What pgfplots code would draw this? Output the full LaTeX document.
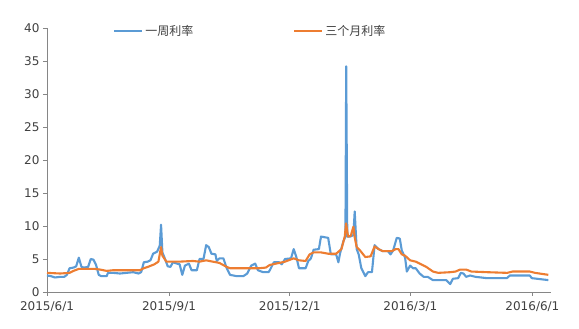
\documentclass[border=0pt]{standalone}
\usepackage{fontspec}
\setmainfont{DejaVu Sans}
\newfontfamily\cjk{Noto Sans CJK SC}
\usepackage{pgfplots}
\pgfplotsset{compat=1.18}
\definecolor{sblue}{HTML}{5B9BD5}
\definecolor{sorange}{HTML}{ED7D31}
\definecolor{axgray}{HTML}{868686}
\definecolor{txtgray}{HTML}{404040}
\begin{document}
\begin{tikzpicture}
\begin{axis}[
  at={(47pt,37pt)}, anchor=origin,
  scale only axis, width=504pt, height=264pt,
  xmin=0, xmax=380, ymin=0, ymax=40,
  axis lines*=left,
  axis line style={axgray, line width=0.8pt},
  tick style={axgray, line width=0.8pt},
  tick align=outside, major tick length=4pt,
  xtick={0,92,183,274,366},
  xticklabels={2015/6/1,2015/9/1,2015/12/1,2016/3/1,2016/6/1},
  ytick={0,5,...,40},
  /pgf/number format/assume math mode=true,
  tick label style={font=\fontsize{12}{14}\selectfont, text=txtgray},
  xticklabel style={yshift=-2pt},
  clip=false,
  legend columns=2,
  legend style={draw=none, fill=none, at={(0.125,0.989)}, anchor=west,
    font=\cjk\fontsize{12}{14}\selectfont, text=txtgray,
    /tikz/every even column/.append style={column sep=98pt}},
  legend image code/.code={\draw[#1] (0pt,0pt) -- (28pt,0pt);},
]
\addplot[sblue, line width=2.1pt, line join=round] coordinates {
(0,2.5)(3,2.4)(6,2.2)(10,2.3)(13,2.3)(15,2.6)(17,3.6)(20,3.7)(22,3.9)(24,5.2)(26,3.8)(28,3.7)(31,3.8)(33,5.0)(35,4.9)(37,4.1)(39,2.6)(41,2.4)(45,2.4)(46,2.9)(50,2.9)(55,2.8)(60,2.9)(65,3.0)(69,2.8)(71,3.0)(73,4.5)(76,4.6)(78,4.8)(80,5.8)(83,6.1)(85,7.0)(86,10.2)(87,6.0)(89,5.0)(91,3.9)(93,3.8)(95,4.5)(98,4.3)(100,4.2)(102,2.6)(104,4.0)(107,4.3)(109,3.3)(113,3.3)(115,5.0)(118,5.0)(120,7.1)(122,6.8)(124,5.8)(127,5.7)(128,4.7)(130,5.1)(133,5.1)(135.5,3.6)(138,2.6)(143,2.4)(148,2.4)(151,2.8)(154,4.0)(157,4.3)(159,3.3)(163,3.0)(167,3.0)(168,3.3)(171,4.5)(175,4.5)(177,4.2)(179.5,5.0)(184,5.1)(186,6.5)(188,5.3)(190,3.6)(195,3.6)(197,4.7)(199,5.1)(201,6.4)(205,6.5)(206.6,8.4)(212,8.2)(214,5.7)(218,5.7)(219.7,4.5)(221,5.9)(223.5,7.7)(225,8.4)(225.6,34.2)(226.4,8.4)(228.5,8.4)(231,8.6)(232,12.2)(233.5,6.5)(235,5.7)(237,3.6)(240,2.4)(242,3.0)(245,3.0)(247,7.1)(250,6.5)(253,6.2)(257,6.2)(259,5.7)(261,6.3)(263.7,8.2)(266,8.1)(267.5,6.3)(270,5.2)(271.3,3.1)(273.8,4.0)(276,3.6)(278,3.6)(281,2.8)(284,2.3)(287,2.3)(291,1.8)(296,1.8)(301,1.8)(304,1.2)(306,2.0)(310,2.1)(312,2.9)(314,2.8)(316,2.3)(319,2.5)(323,2.3)(331.6,2.1)(346.7,2.1)(349,2.5)(364,2.5)(365.5,2.1)(378,1.8)
};
\addlegendentry{一周利率}
\addplot[sorange, line width=2.1pt, line join=round] coordinates {
(0,2.9)(10,2.8)(17,2.9)(20,3.2)(24,3.5)(30,3.5)(36,3.5)(40,3.4)(45,3.2)(50,3.3)(60,3.3)(70,3.3)(73,3.6)(76,3.8)(81,4.2)(84,4.6)(86,6.8)(87,5.5)(90,4.6)(93,4.6)(95,4.6)(100,4.6)(110,4.7)(115,4.6)(120,4.8)(125,4.6)(130,4.4)(135.5,3.8)(138,3.6)(150,3.6)(160,3.6)(165,3.7)(168,4.1)(175,4.4)(179.5,4.6)(186,5.1)(190,4.8)(195,4.7)(198,5.7)(201,6.0)(206.6,6.0)(212,5.8)(218,5.8)(222,6.5)(224.5,8.4)(225.5,10.4)(227,8.4)(229,8.5)(231,9.9)(232,8.3)(233.5,6.8)(236,6.3)(240,5.3)(244,5.4)(247,6.9)(250,6.5)(253,6.2)(260,6.2)(263,6.5)(265,6.5)(267.5,5.7)(270,5.5)(273.8,4.8)(278,4.6)(281,4.3)(286,3.8)(291,3.1)(295,2.9)(304,3.0)(308,3.1)(311.5,3.4)(316,3.4)(320,3.1)(332,3.0)(347,2.9)(351,3.1)(364,3.1)(368,2.9)(378,2.6)
};
\addlegendentry{三个月利率}
\end{axis}
\pgfresetboundingbox
\path[use as bounding box] (0,0) rectangle (579pt,329pt);
\end{tikzpicture}
\end{document}
